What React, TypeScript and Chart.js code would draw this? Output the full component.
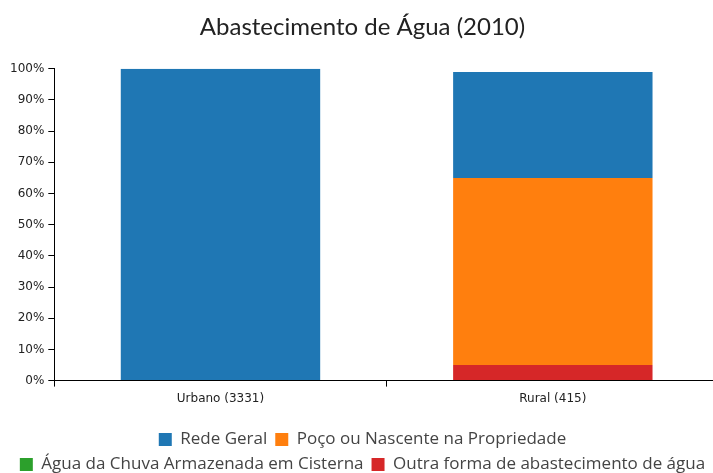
import React, { useEffect, useRef } from "react";
import { Chart, registerables } from "chart.js";

Chart.register(...registerables);

const categories = ["Urbano (3331)", "Rural (415)"];
const seriesNames = [
  "Rede Geral",
  "Poço ou Nascente na Propriedade",
  "Água da Chuva Armazenada em Cisterna",
  "Outra forma de abastecimento de água",
];
const redeGeral = [100, 34];
const poco = [0, 60];
const chuva = [0, 0];
const outra = [0, 5];
const colors = ["#1f77b4", "#ff7f0e", "#2ca02c", "#d62728"];
const yTicks = [0, 10, 20, 30, 40, 50, 60, 70, 80, 90, 100];

export default function App() {
  const ref = useRef<HTMLCanvasElement>(null);
  useEffect(() => {
    document.body.style.margin = "0";
    const values = [redeGeral, poco, chuva, outra];
    const chart = new Chart(ref.current!, {
      type: "bar",
      data: {
        labels: categories,
        datasets: seriesNames.map((name, i) => ({
          label: name,
          data: values[i],
          backgroundColor: colors[i],
          borderWidth: 0,
          order: 4 - i,
          categoryPercentage: 0.6,
          barPercentage: 1,
        })),
      },
      options: {
        responsive: false,
        animation: false,
        layout: { padding: { left: 14, right: 0, top: 0, bottom: -10 } },
        plugins: {
          title: {
            display: true,
            text: "Abastecimento de Água (2010)",
            color: "#222",
            font: { family: "Lato", size: 24, weight: "normal" },
            padding: { top: 13, bottom: 27 },
          },
          legend: {
            position: "bottom",
            labels: {
              sort: (a: any, b: any) => a.datasetIndex - b.datasetIndex,
              boxWidth: 13,
              boxHeight: 13,
              padding: 8,
              color: "#444",
              font: { family: "'Open Sans'", size: 17 },
            },
          },
          tooltip: { enabled: false },
        },
        scales: {
          x: {
            stacked: true,
            offset: true,
            afterFit: (s: any) => {
              s.height += 12;
            },
            grid: {
              display: true,
              offset: true,
              drawOnChartArea: false,
              tickLength: 6,
              color: "#000",
            },
            border: { color: "#000", width: 1 },
            ticks: { color: "#222", font: { family: "'DejaVu Sans'", size: 12 }, padding: 5 },
          },
          y: {
            stacked: true,
            min: 0,
            max: 100,
            afterBuildTicks: (axis: any) => {
              axis.ticks = yTicks.map((v) => ({ value: v }));
            },
            grid: { drawOnChartArea: false, tickLength: 6, color: "#000" },
            border: { color: "#000", width: 1 },
            ticks: {
              color: "#222",
              font: { family: "'DejaVu Sans'", size: 12 },
              padding: 4,
              callback: (v: any) => v + "%",
            },
          },
        },
      },
    });
    return () => chart.destroy();
  }, []);
  return (
    <div style={{ width: 713, height: 473, overflow: "hidden", position: "relative" }}>
      <canvas
        ref={ref}
        width={727}
        height={473}
        style={{ display: "block", position: "absolute", left: -8, top: 0 }}
      />
    </div>
  );
}
